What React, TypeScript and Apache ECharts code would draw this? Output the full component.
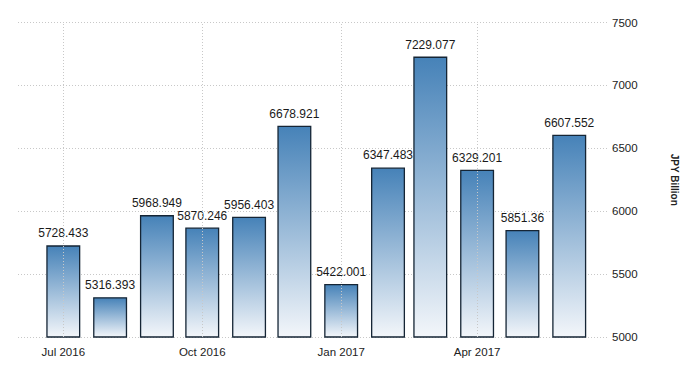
import React, { useEffect, useRef } from "react";
import * as echarts from "echarts";

const months: [number, number][] = [
  [2016, 6], [2016, 7], [2016, 8], [2016, 9], [2016, 10], [2016, 11],
  [2017, 0], [2017, 1], [2017, 2], [2017, 3], [2017, 4], [2017, 5],
];
const values: number[] = [
  5728.433, 5316.393, 5968.949, 5870.246, 5956.403, 6678.921,
  5422.001, 6347.483, 7229.077, 6329.201, 5851.36, 6607.552,
];
const labelMonths: [number, number][] = [[2016, 6], [2016, 9], [2017, 0], [2017, 3]];
const monthNames = ["Jan", "Feb", "Mar", "Apr", "May", "Jun", "Jul", "Aug", "Sep", "Oct", "Nov", "Dec"];
const yTicks = { min: 5000, max: 7500, interval: 500 };
const unitName = "JPY Billion";

const FONT = "'Liberation Sans', Arial, sans-serif";
const DAY = 86400000;
const ORIGIN = Date.UTC(2016, 5, 1);
const toDay = (y: number, m: number, d = 1) => Math.round((Date.UTC(y, m, d) - ORIGIN) / DAY);

export default function App() {
  const ref = useRef<HTMLDivElement>(null);
  useEffect(() => {
    if (!ref.current) return;
    const chart = echarts.init(ref.current, null, { renderer: "svg" });
    const data = months.map(([y, m], i) => [toDay(y, m), values[i]]);
    const labelDays = labelMonths.map(([y, m]) => toDay(y, m));
    chart.setOption({
      animation: false,
      grid: { left: 18, right: 93, top: 22.5, bottom: 38 },
      xAxis: {
        type: "value",
        min: 0,
        max: toDay(2017, 5, 26),
        axisLine: { show: false },
        axisTick: { show: false },
        splitLine: { show: false },
        axisLabel: {
          customValues: labelDays,
          color: "#222",
          fontFamily: FONT,
          fontSize: 11.5,
          margin: 9,
          formatter: (v: number) => {
            const d = new Date(ORIGIN + v * DAY);
            return monthNames[d.getUTCMonth()] + " " + d.getUTCFullYear();
          },
        },
      },
      yAxis: {
        type: "value",
        position: "right",
        min: yTicks.min,
        max: yTicks.max,
        interval: yTicks.interval,
        name: unitName,
        nameLocation: "middle",
        nameRotate: -90,
        nameGap: 62,
        nameTextStyle: { fontFamily: FONT, fontSize: 10, fontWeight: "bold", color: "#222" },
        axisLine: { show: false },
        axisTick: { show: false },
        axisLabel: { color: "#222", fontFamily: FONT, fontSize: 11.5, margin: 5, formatter: (v: number) => String(v) },
        splitLine: { lineStyle: { color: "#c8c8c8", type: [1, 2], width: 1 } },
      },
      series: [
        {
          type: "line",
          z: 1,
          data: [],
          silent: true,
          markLine: {
            silent: true,
            symbol: "none",
            label: { show: false },
            lineStyle: { color: "#c8c8c8", type: [1, 2], width: 1 },
            data: labelDays.map((t) => ({ xAxis: t })),
          },
        },
        {
          type: "bar",
          z: 3,
          barWidth: 34,
          data,
          itemStyle: {
            borderColor: "#152535",
            borderWidth: 1.3,
            color: new echarts.graphic.LinearGradient(0, 0, 0, 1, [
              { offset: 0, color: "#4682b8" },
              { offset: 1, color: "#f3f6fa" },
            ]),
          },
          label: {
            show: true,
            position: "top",
            distance: 6,
            color: "#1a1a1a",
            fontFamily: FONT,
            fontSize: 12,
            formatter: (p: any) => String(p.value[1]),
          },
        },
      ],
    });
    return () => chart.dispose();
  }, []);
  return <div ref={ref} style={{ position: "absolute", left: 0, top: 0, width: 700, height: 375 }} />;
}
